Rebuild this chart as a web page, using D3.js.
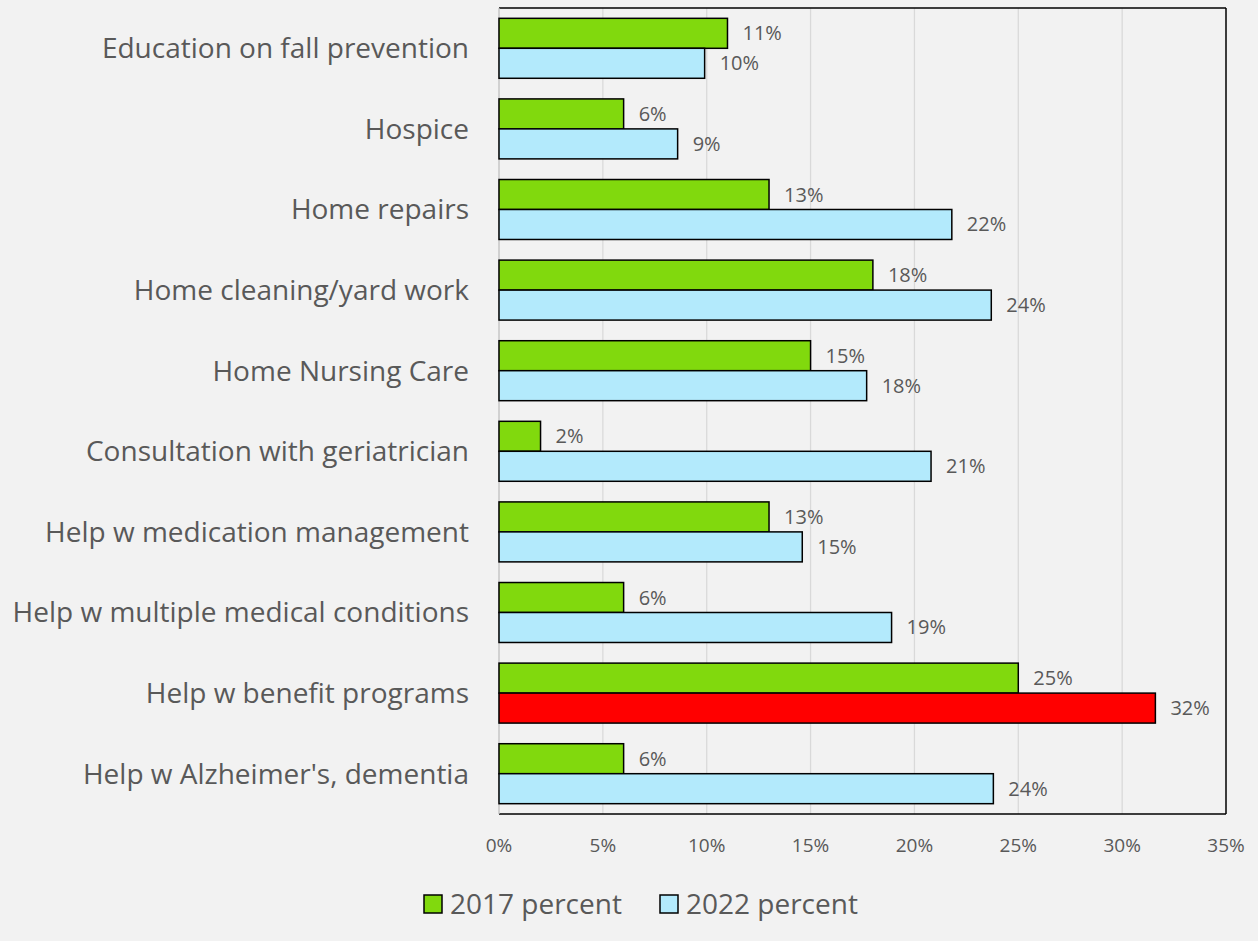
<!DOCTYPE html>
<html>
<head>
<meta charset="utf-8">
<script src="https://cdn.jsdelivr.net/npm/d3@7"></script>
<style>
  body { margin: 0; background: #f2f2f2; }
  text { font-family: "Open Sans", sans-serif; fill: #595959; }
</style>
</head>
<body>
<div id="chart"></div>
<script>
// categories top to bottom
const categories = [
  "Education on fall prevention",
  "Hospice",
  "Home repairs",
  "Home cleaning/yard work",
  "Home Nursing Care",
  "Consultation with geriatrician",
  "Help w medication management",
  "Help w multiple medical conditions",
  "Help w benefit programs",
  "Help w Alzheimer's, dementia"
];
const seriesNames = ["2017 percent", "2022 percent"];
const values2017 = [0.11, 0.06, 0.13, 0.18, 0.15, 0.02, 0.13, 0.06, 0.25, 0.06];
const values2022 = [0.099, 0.086, 0.218, 0.237, 0.177, 0.208, 0.146, 0.189, 0.316, 0.238];
const xTicks = [0, 0.05, 0.10, 0.15, 0.20, 0.25, 0.30, 0.35];
const highlight = "Help w benefit programs";

const W = 1258, H = 941;
let margin = {top: 8, right: 32, bottom: 127, left: 499},
  width = W - margin.left - margin.right,
  height = H - margin.top - margin.bottom;

let svg = d3.select("#chart").append("svg")
  .attr("width", W).attr("height", H)
  .style("background", "#f2f2f2");

let g = svg.append("g")
  .attr("transform", "translate(" + margin.left + "," + margin.top + ")");

let x = d3.scaleLinear().domain([0, 0.35]).range([0, width]);
let y = d3.scaleBand().domain(categories).range([0, height]).paddingInner(0.256).paddingOuter(0.128);
let y1 = d3.scaleBand().domain(seriesNames).range([0, y.bandwidth()]);
const color = d3.scaleOrdinal().domain(seriesNames).range(["#81d90d", "#b3eafc"]);

// gridlines
g.selectAll(".grid").data(xTicks.slice(1, -1)).join("line")
  .attr("x1", d => x(d)).attr("x2", d => x(d))
  .attr("y1", 0).attr("y2", height)
  .attr("stroke", "#d9d9d9").attr("stroke-width", 1.3);

// frame
g.append("line").attr("x1", 0).attr("x2", width).attr("y1", 0).attr("y2", 0).attr("stroke", "#000").attr("stroke-width", 1.5);
g.append("line").attr("x1", width).attr("x2", width).attr("y1", 0).attr("y2", height).attr("stroke", "#000").attr("stroke-width", 1.5);
g.append("line").attr("x1", 0).attr("x2", width).attr("y1", height).attr("y2", height).attr("stroke", "#000").attr("stroke-width", 1.5);
g.append("line").attr("x1", 0).attr("x2", 0).attr("y1", 0).attr("y2", height).attr("stroke", "#bfbfbf").attr("stroke-width", 1.3);

// rows
let rows = categories.map((c, i) => ({cat: c, vals: [
  {s: seriesNames[0], v: values2017[i]},
  {s: seriesNames[1], v: values2022[i]}
]}));

let grp = g.selectAll(".row").data(rows).join("g")
  .attr("transform", d => "translate(0," + y(d.cat) + ")");

grp.selectAll("rect").data(d => d.vals.map(v => ({...v, cat: d.cat}))).join("rect")
  .attr("x", 0)
  .attr("y", d => y1(d.s))
  .attr("width", d => x(d.v))
  .attr("height", y1.bandwidth())
  .attr("fill", d => (d.cat === highlight && d.s === seriesNames[1]) ? "#ff0000" : color(d.s))
  .attr("stroke", "#000").attr("stroke-width", 1.5);

grp.selectAll(".lbl").data(d => d.vals).join("text")
  .attr("class", "lbl")
  .attr("x", d => x(d.v) + 15)
  .attr("y", d => y1(d.s) + y1.bandwidth() / 2)
  .attr("dy", "0.35em")
  .style("font-size", "20px")
  .text(d => d3.format(".0%")(d.v));

// category labels
g.selectAll(".cat").data(categories).join("text")
  .attr("x", -30)
  .attr("y", d => y(d) + y.bandwidth() / 2)
  .attr("dy", "0.35em")
  .attr("text-anchor", "end")
  .style("font-size", "28px")
  .text(d => d);

// x tick labels
g.selectAll(".tick").data(xTicks).join("text")
  .attr("x", d => x(d))
  .attr("y", height + 38)
  .attr("text-anchor", "middle")
  .style("font-size", "19px")
  .text(d => d3.format(".0%")(d));

// legend
let leg = svg.append("g").attr("transform", "translate(424,895)");
let lx = [0, 236];
seriesNames.forEach((s, i) => {
  leg.append("rect").attr("x", lx[i]).attr("y", 0).attr("width", 18).attr("height", 18)
    .attr("fill", color(s)).attr("stroke", "#000").attr("stroke-width", 1.5);
  leg.append("text").attr("x", lx[i] + 26).attr("y", 9).attr("dy", "0.35em")
    .style("font-size", "28px").text(s);
});
</script>
</body>
</html>
